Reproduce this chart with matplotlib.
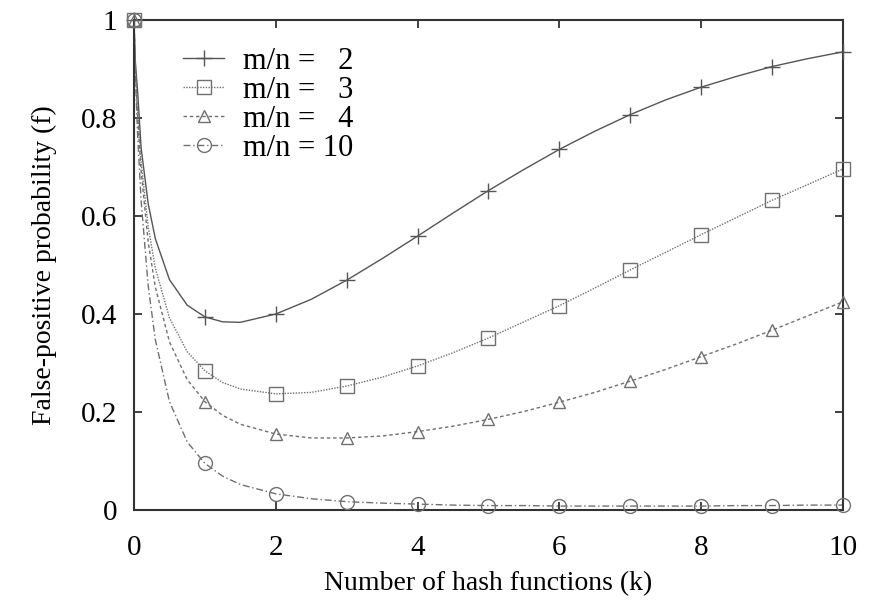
import matplotlib
matplotlib.use("Agg")
import matplotlib.pyplot as plt

# values
k_vals = [0, 0.01, 0.02, 0.05, 0.1, 0.2, 0.3, 0.5, 0.75, 1, 1.25, 1.5, 2, 2.5, 3, 3.5,
          4, 4.5, 5, 5.5, 6, 6.5, 7, 7.5, 8, 8.5, 9, 9.5, 10]
f_mn2 = [1.0, 0.948, 0.912, 0.856, 0.739, 0.625, 0.554, 0.470, 0.418, 0.394, 0.384, 0.383,
         0.400, 0.430, 0.469, 0.513, 0.559, 0.606, 0.652, 0.695, 0.736, 0.773, 0.807, 0.837,
         0.863, 0.885, 0.905, 0.921, 0.935]
f_mn3 = [1.0, 0.945, 0.905, 0.814, 0.711, 0.578, 0.494, 0.392, 0.323, 0.284, 0.260, 0.247,
         0.237, 0.240, 0.253, 0.271, 0.294, 0.321, 0.351, 0.384, 0.417, 0.453, 0.490, 0.526,
         0.562, 0.597, 0.632, 0.664, 0.696]
f_mn4 = [1.0, 0.942, 0.899, 0.803, 0.691, 0.547, 0.455, 0.343, 0.266, 0.221, 0.193, 0.175,
         0.155, 0.147, 0.147, 0.151, 0.160, 0.171, 0.185, 0.201, 0.220, 0.240, 0.263, 0.287,
         0.313, 0.339, 0.367, 0.396, 0.425]
f_mn10 = [1.0, 0.933, 0.883, 0.767, 0.631, 0.457, 0.348, 0.221, 0.139, 0.095, 0.069, 0.052,
          0.033, 0.023, 0.017, 0.014, 0.012, 0.010, 0.009, 0.009, 0.008, 0.008, 0.008, 0.008,
          0.008, 0.009, 0.009, 0.010, 0.010]

labels = ["m/n =   2", "m/n =   3", "m/n =   4", "m/n = 10"]
x_ticks = [0, 2, 4, 6, 8, 10]
y_ticks = [0, 0.2, 0.4, 0.6, 0.8, 1]
y_tick_labels = ["0", "0.2", "0.4", "0.6", "0.8", "1"]

plt.rcParams['font.family'] = ['Liberation Serif', 'DejaVu Serif']

fig = plt.figure(figsize=(8.72, 6.08), dpi=100)
ax = fig.add_axes([0.1537, 0.1612, 0.813, 0.8059])

series = [f_mn2, f_mn3, f_mn4, f_mn10]
markers = ['+', 's', '^', 'o']
msizes = [12, 10, 9, 10]
dashes = [None, (1, 1), (2.5, 2), (5, 2, 1, 2)]
colors = ['#555555', '#707070', '#707070', '#707070']

for ys, mk, ms, ds, col, lab in zip(series, markers, msizes, dashes, colors, labels):
    kk = [k for k in k_vals if k == int(k)]
    mm = [y for k, y in zip(k_vals, ys) if k == int(k)]
    line, = ax.plot(k_vals, ys, color=col, lw=1.0)
    if ds is not None:
        line.set_dashes(ds)
    ax.plot(kk, mm, ls='none', marker=mk, ms=ms, mfc='none', mec=col, mew=1.0,
            clip_on=False, zorder=3)
    # legend proxy
    h, = ax.plot([], [], color=col, lw=1.0, marker=mk, ms=ms, mfc='none', mec=col,
                 mew=1.0, label=lab)
    if ds is not None:
        h.set_dashes(ds)

ax.set_xlim(0, 10)
ax.set_ylim(0, 1)
ax.set_xticks(x_ticks)
ax.set_xticklabels([str(t) for t in x_ticks])
ax.set_yticks(y_ticks)
ax.set_yticklabels(y_tick_labels)
ax.tick_params(direction='in', top=True, right=True, length=6, width=1.3,
               labelsize=21, color='#333333')
ax.tick_params(axis='x', pad=18)
ax.tick_params(axis='y', pad=12)
for sp in ax.spines.values():
    sp.set_linewidth(1.5)
    sp.set_color('#333333')

ax.set_xlabel("Number of hash functions (k)", fontsize=20, labelpad=7)
ax.set_ylabel("False-positive probability (f)", fontsize=20, labelpad=17)

ax.legend(loc='upper left', bbox_to_anchor=(0.069, 0.945), frameon=False, fontsize=22,
          handlelength=1.35, handletextpad=0.62, labelspacing=0.0, numpoints=1,
          borderpad=0, borderaxespad=0)

fig.savefig("out.png", dpi=100)
